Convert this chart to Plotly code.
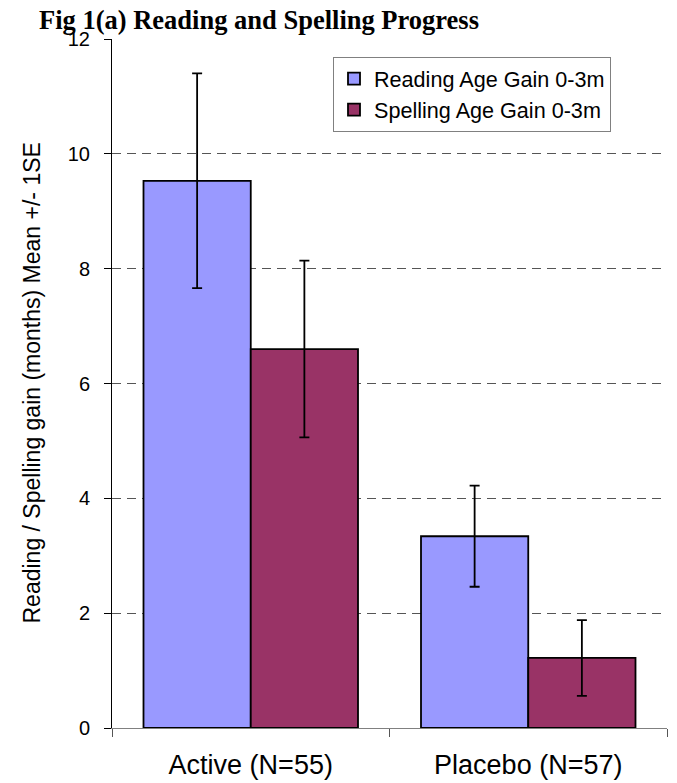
import plotly.graph_objects as go

categories = ["Active (N=55)", "Placebo (N=57)"]
series_names = ["Reading Age Gain 0-3m", "Spelling Age Gain 0-3m"]
reading_mean = [9.53, 3.34]
reading_se = [1.87, 0.88]
spelling_mean = [6.60, 1.22]
spelling_se = [1.54, 0.66]
y_ticks = [0, 2, 4, 6, 8, 10, 12]

SANS = "Liberation Sans, Arial, sans-serif"
SERIF = "Liberation Serif, Times New Roman, serif"

W, H = 669, 775  # page body has an 8px margin

fig = go.Figure()
fig.add_trace(go.Bar(
    x=categories, y=reading_mean, name=series_names[0], legendgroup="r",
    marker=dict(color="#9999FF", line=dict(color="black", width=1.8)),
    error_y=dict(type="data", array=reading_se, visible=True, color="black", thickness=1.8, width=5),
))
fig.add_trace(go.Bar(
    x=categories, y=spelling_mean, name=series_names[1], legendgroup="s",
    marker=dict(color="#993366", line=dict(color="black", width=1.8)),
    error_y=dict(type="data", array=spelling_se, visible=True, color="black", thickness=1.8, width=5),
))

fig.update_layout(
    width=W, height=H,
    margin=dict(l=104, r=10, t=31, b=55, autoexpand=False),
    paper_bgcolor="white", plot_bgcolor="white",
    barmode="group", bargap=0.227, bargroupgap=0,
    showlegend=True,
    legend=dict(
        x=(333 - 112) / 555, y=(728 - 57) / 689, xanchor="left", yanchor="top",
        bgcolor="white", bordercolor="#808080", borderwidth=1,
        font=dict(family=SANS, size=21.6, color="black"),
        tracegroupgap=17, traceorder="normal",
    ),
    title=dict(
        text="<b>Fig 1(a) Reading and Spelling Progress</b>",
        font=dict(family=SERIF, size=26.5, color="black"),
        xref="container", yref="container", x=31 / W, xanchor="left",
        y=1 - 2 / H, yanchor="top",
    ),
    font=dict(family=SANS, color="black"),
)

fig.update_yaxes(
    range=[0, 12], tickvals=y_ticks, ticktext=[str(v) for v in y_ticks],
    showline=True, linecolor="black", linewidth=1,
    ticks="outside", ticklen=7, tickcolor="black", tickwidth=1,
    tickfont=dict(family=SANS, size=20, color="black"),
    ticklabelstandoff=10,
    showgrid=True, gridcolor="#555555", gridwidth=1, griddash="9px,6px",
    zeroline=False,
)
fig.update_xaxes(
    showline=True, linecolor="#808080", linewidth=1,
    ticks="outside", tickson="boundaries", ticklen=8, tickcolor="#555555", tickwidth=1,
    tickfont=dict(family=SANS, size=27, color="black"),
    ticklabelstandoff=13,
    showgrid=False, zeroline=False,
)

fig.add_annotation(
    text="Reading / Spelling gain (months) Mean +/- 1SE",
    xref="paper", yref="paper", x=0, y=0.5, xshift=-81,
    xanchor="center", yanchor="middle", textangle=-90, showarrow=False,
    font=dict(family=SANS, size=23, color="black"),
)

fig.write_html("out.html")
